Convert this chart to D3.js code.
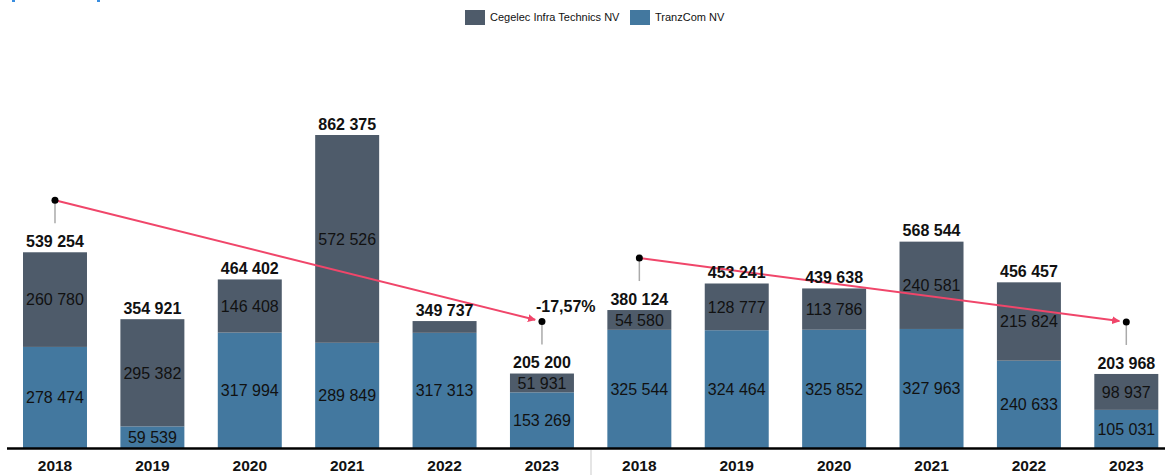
<!DOCTYPE html>
<html><head><meta charset="utf-8">
<script src="https://cdn.jsdelivr.net/npm/d3@7"></script>
<style>body{margin:0;background:#fff}svg{display:block;font-family:"Liberation Sans",Arial,sans-serif}</style>
</head><body><svg id="c" width="1173" height="475"></svg>
<script>
const years = ["2018","2019","2020","2021","2022","2023","2018","2019","2020","2021","2022","2023"];
const tranzcom = [278474,59539,317994,289849,317313,153269,325544,324464,325852,327963,240633,105031];
const cegelec = [260780,295382,146408,572526,32424,51931,54580,128777,113786,240581,215824,98937];
const totals = [539254,354921,464402,862375,349737,205200,380124,453241,439638,568544,456457,203968];
const seriesNames = ["Cegelec Infra Technics NV","TranzCom NV"];
const colors = {cegelec:"#4e5b6a", tranzcom:"#43789f"};
const trends = [{from:0,to:5,label:"-17,57%"},{from:6,to:11,label:""}];

const svg = d3.select("#c");
const keys = years.map((y,i)=>i);
const x = d3.scaleBand().domain(keys).range([6.3,1175]).paddingInner(0.343).paddingOuter(0.1715);
const y = d3.scaleLinear().domain([0,862375]).range([448,135]);
const fmt = v => d3.format(",")(v).replace(/,/g," ");
const gBars = svg.append("g"), gArrows = svg.append("g"), gText = svg.append("g");

// bars
keys.forEach(i=>{
  const x0 = x(i), w = x.bandwidth();
  gBars.append("rect").attr("x",x0).attr("width",w).attr("y",y(tranzcom[i])).attr("height",y(0)-y(tranzcom[i])).attr("fill",colors.tranzcom);
  gBars.append("rect").attr("x",x0).attr("width",w).attr("y",y(totals[i])).attr("height",y(tranzcom[i])-y(totals[i])).attr("fill",colors.cegelec);
  const cx = x0+w/2;
  const segLabel=(v,y0,y1)=>{ if(Math.abs(y0-y1)<17) return;
    gText.append("text").attr("x",cx).attr("y",(y0+y1)/2).attr("dy","0.36em").attr("text-anchor","middle").attr("font-size",16).attr("fill","#111").text(fmt(v)); };
  segLabel(tranzcom[i],y(0),y(tranzcom[i]));
  segLabel(cegelec[i],y(tranzcom[i]),y(totals[i]));
  gText.append("text").attr("x",cx).attr("y",y(totals[i])-11).attr("dy","0.36em").attr("text-anchor","middle").attr("font-size",16).attr("font-weight","bold").attr("fill","#111").text(fmt(totals[i]));
});

// axis
const axis = d3.axisBottom(x).tickFormat(i=>years[i]).tickSize(0).tickPadding(11);
const gA = svg.append("g").attr("transform","translate(0,449)").call(axis);
gA.select(".domain").remove();
gA.selectAll("text").attr("font-size",15.5).attr("font-weight","bold").attr("fill","#111").attr("font-family","Liberation Sans, Arial, sans-serif");
svg.append("line").attr("x1",7).attr("x2",1165).attr("y1",448.5).attr("y2",448.5).attr("stroke","#000").attr("stroke-width",2.5);
svg.append("line").attr("x1",591).attr("x2",591).attr("y1",450).attr("y2",475).attr("stroke","#ddd").attr("stroke-width",1.5);

// trend arrows
const defs = svg.append("defs");
defs.append("marker").attr("id","ah").attr("viewBox","0 0 10 10").attr("refX",9).attr("refY",5)
  .attr("markerWidth",8).attr("markerHeight",8).attr("markerUnits","userSpaceOnUse").attr("orient","auto")
  .append("path").attr("d","M0,0L10,5L0,10z").attr("fill","#f0466a");
trends.forEach(t=>{
  const pts=[t.from,t.to].map(i=>({x:x(i)+x.bandwidth()/2, y:y(totals[i])-52, top:y(totals[i])}));
  pts.forEach(p=>gArrows.append("line").attr("x1",p.x).attr("x2",p.x).attr("y1",p.y).attr("y2",p.top-29).attr("stroke","#aaa").attr("stroke-width",1.5));
  const dx=pts[1].x-pts[0].x, dy=pts[1].y-pts[0].y, L=Math.hypot(dx,dy);
  gArrows.append("line").attr("x1",pts[0].x).attr("y1",pts[0].y).attr("x2",pts[1].x-dx/L*7).attr("y2",pts[1].y-dy/L*7)
    .attr("stroke","#f0466a").attr("stroke-width",2).attr("marker-end","url(#ah)");
  pts.forEach(p=>gArrows.append("circle").attr("cx",p.x).attr("cy",p.y).attr("r",3.5).attr("fill","#000"));
  if(t.label) gText.append("text").attr("x",pts[1].x-6).attr("y",pts[1].y-15).attr("dy","0.36em").attr("font-size",16).attr("font-weight","bold").attr("fill","#111").text(t.label);
});

// legend
const legend=[{n:seriesNames[0],c:colors.cegelec,x:465},{n:seriesNames[1],c:colors.tranzcom,x:630}];
legend.forEach(l=>{
  svg.append("rect").attr("x",l.x).attr("y",10).attr("width",20).attr("height",15).attr("fill",l.c);
  svg.append("text").attr("x",l.x+25).attr("y",21).attr("font-size",11).attr("fill","#111").attr("font-family","Liberation Sans, Arial, sans-serif").text(l.n);
});
// clipped title fragments
svg.append("rect").attr("x",12).attr("y",0).attr("width",3).attr("height",2).attr("fill","#3a8ee0");
svg.append("rect").attr("x",97).attr("y",0).attr("width",3).attr("height",2).attr("fill","#3a8ee0");
</script></body></html>
